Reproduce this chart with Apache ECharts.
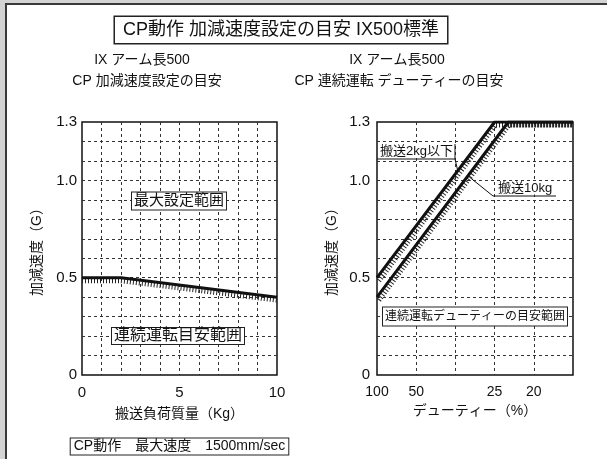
<!DOCTYPE html>
<html>
<head>
<meta charset="utf-8">
<title>CP動作 加減速度設定の目安 IX500標準</title>
<script src="https://cdn.jsdelivr.net/npm/echarts@6/dist/echarts.min.js"></script>
<style>
html,body{margin:0;padding:0;background:#fff;}
#main{width:607px;height:459px;}
</style>
</head>
<body>
<div id="main"></div>
<script>
// 左グラフ: 搬送負荷質量(Kg) - 加減速度(G)
var loadKg = [0, 2, 10];
var accByLoad = [0.5, 0.5, 0.4];
var loadTicks = [0, 5, 10];

// 右グラフ: x = 100 / デューティー(%)
var dutyPos = [1, 2, 3, 4, 5, 6];
var dutyText = ['100', '50', '', '25', '20', ''];
var duty2kgX = [1, 4.0, 6];
var duty2kgY = [0.5, 1.3, 1.3];
var duty10kgX = [1, 4.35, 6];
var duty10kgY = [0.4, 1.3, 1.3];

// 縦軸
var accTicks = [0, 0.5, 1.0, 1.3];
var accText = ['0', '0.5', '1.0', '1.3'];

var FONT = '"Liberation Sans", "Noto Sans CJK JP", sans-serif';
var INK = '#111';

function zip(xs, ys) {
    var out = [];
    for (var i = 0; i < xs.length; i++) out.push([xs[i], ys[i]]);
    return out;
}
function yAt(xs, ys, x) {
    for (var i = 0; i < xs.length - 1; i++) {
        if (x >= xs[i] && x <= xs[i + 1]) {
            return ys[i] + (ys[i + 1] - ys[i]) * (x - xs[i]) / (xs[i + 1] - xs[i]);
        }
    }
    return ys[ys.length - 1];
}
function accLabel(v) {
    for (var i = 0; i < accTicks.length; i++) {
        if (Math.abs(accTicks[i] - v) < 1e-6) return accText[i];
    }
    return '';
}

var dash = { type: [3, 3], color: '#333', width: 1 };

function yAxisOf(idx, margin) {
    return {
        gridIndex: idx, type: 'value', min: 0, max: 1.3, interval: 0.1,
        axisLine: { show: false }, axisTick: { show: false },
        axisLabel: { margin: margin, fontSize: 15, color: INK, fontFamily: FONT, formatter: accLabel, showMinLabel: true, showMaxLabel: true },
        splitLine: { show: true, showMinLine: false, showMaxLine: false, lineStyle: dash },
        name: '加減速度（G）', nameLocation: 'middle', nameRotate: 90, nameGap: 38,
        nameTextStyle: { fontSize: 14, color: INK, fontFamily: FONT }
    };
}
function hiddenAxis(idx, min, max) {
    return { gridIndex: idx, type: 'value', min: min, max: max, show: false, splitLine: { show: false } };
}
function mainLine(name, xi, data) {
    return { name: name, type: 'line', xAxisIndex: xi, yAxisIndex: xi, data: data, symbol: 'none', silent: true, z: 5,
        lineStyle: { color: INK, width: 3 } };
}
// 斜線(ハッチ): 同じデータを少しずらしたグリッドに点線で描く
function hatchLine(xi, data) {
    return { type: 'line', xAxisIndex: xi, yAxisIndex: xi, data: data, symbol: 'none', silent: true, clip: false, z: 4,
        lineStyle: { color: '#222', width: 5, type: [1, 2] } };
}

var frame = { show: true, borderColor: INK, borderWidth: 1.5, backgroundColor: 'transparent' };

var option = {
    backgroundColor: '#fff',
    animation: false,
    grid: [
        Object.assign({ left: 82, top: 122, width: 195, height: 253 }, frame),
        Object.assign({ left: 377, top: 122, width: 196, height: 253 }, frame),
        { left: 82, top: 125, width: 195, height: 253 },
        { left: 379, top: 125, width: 194, height: 253 }
    ],
    xAxis: [
        {
            gridIndex: 0, type: 'value', min: 0, max: 10, interval: 1,
            axisLine: { show: false }, axisTick: { show: false },
            axisLabel: { margin: 10, fontSize: 15, color: INK, fontFamily: FONT, showMinLabel: true, showMaxLabel: true,
                formatter: function (v) { return loadTicks.indexOf(v) >= 0 ? String(v) : ''; } },
            splitLine: { show: true, showMinLine: false, showMaxLine: false, lineStyle: dash },
            name: '搬送負荷質量（Kg）', nameLocation: 'middle', nameGap: 32,
            nameTextStyle: { fontSize: 14, color: INK, fontFamily: FONT }
        },
        {
            gridIndex: 1, type: 'value', min: 1, max: 6, interval: 1,
            axisLine: { show: false }, axisTick: { show: false },
            axisLabel: { margin: 10, fontSize: 14, color: INK, fontFamily: FONT, showMinLabel: true, showMaxLabel: true,
                formatter: function (v) { var i = dutyPos.indexOf(v); return i >= 0 ? dutyText[i] : ''; } },
            splitLine: { show: true, showMinLine: false, showMaxLine: false, lineStyle: dash },
            name: 'デューティー（%）', nameLocation: 'middle', nameGap: 29,
            nameTextStyle: { fontSize: 14, color: INK, fontFamily: FONT }
        },
        hiddenAxis(2, 0, 10),
        hiddenAxis(3, 1, 6)
    ],
    yAxis: [
        yAxisOf(0, 5),
        yAxisOf(1, 7),
        hiddenAxis(2, 0, 1.3),
        hiddenAxis(3, 0, 1.3)
    ],
    series: [
        hatchLine(2, zip(loadKg, accByLoad)),
        mainLine('CP加減速度', 0, zip(loadKg, accByLoad)),
        hatchLine(3, zip(duty2kgX, duty2kgY)),
        hatchLine(3, zip(duty10kgX, duty10kgY)),
        mainLine('搬送2kg以下', 1, zip(duty2kgX, duty2kgY)),
        mainLine('搬送10kg', 1, zip(duty10kgX, duty10kgY))
    ]
};

var chart = echarts.init(document.getElementById('main'), null, { renderer: 'canvas' });
chart.setOption(option);

function boxText(text, x, y, size, pad, opts) {
    opts = opts || {};
    return {
        type: 'text', z: 100,
        style: {
            text: text, x: x, y: y, fill: INK,
            font: size + 'px ' + FONT,
            align: opts.align || 'center', textAlign: opts.align || 'center',
            verticalAlign: 'middle', textVerticalAlign: 'middle',
            backgroundColor: opts.noBg ? null : '#fff',
            borderColor: opts.noBorder ? null : '#222',
            borderWidth: opts.noBorder ? 0 : (opts.bw || 1),
            padding: pad
        }
    };
}
function poly(points, w) {
    return { type: 'polyline', z: 100, shape: { points: points }, style: { stroke: INK, lineWidth: w || 1, fill: null } };
}

var tip2x = 3.06, tip10x = 3.32;
var tip2 = chart.convertToPixel({ xAxisIndex: 1, yAxisIndex: 1 }, [tip2x, yAt(duty2kgX, duty2kgY, tip2x)]);
var tip10 = chart.convertToPixel({ xAxisIndex: 1, yAxisIndex: 1 }, [tip10x, yAt(duty10kgX, duty10kgY, tip10x)]);

chart.setOption({
    graphic: [
        // 外枠
        { type: 'rect', z: 90, shape: { x: 0, y: 0, width: 607, height: 3 }, style: { fill: '#d4d4d4' } },
        { type: 'rect', z: 90, shape: { x: 0, y: 0, width: 5, height: 459 }, style: { fill: '#d4d4d4' } },
        { type: 'rect', z: 91, shape: { x: 5, y: 3, width: 602, height: 2 }, style: { fill: '#3a3a3a' } },
        { type: 'rect', z: 91, shape: { x: 5, y: 3, width: 2, height: 456 }, style: { fill: '#3a3a3a' } },
        // タイトル
        boxText('CP動作 加減速度設定の目安 IX500標準', 281, 30, 18, [4, 8], { bw: 1.5 }),
        boxText('IX アーム長500', 142, 60, 14, 0, { noBg: true, noBorder: true }),
        boxText('CP 加減速度設定の目安', 147, 81, 14, 0, { noBg: true, noBorder: true }),
        boxText('IX アーム長500', 397, 60, 14, 0, { noBg: true, noBorder: true }),
        boxText('CP 連続運転 デューティーの目安', 399, 81, 14, 0, { noBg: true, noBorder: true }),
        // 左グラフ注記
        boxText('最大設定範囲', 179, 201, 15, [1, 2]),
        boxText('連続運転目安範囲', 178, 336, 16, [0, 2]),
        // 右グラフ注記
        boxText('連続運転デューティーの目安範囲', 475, 316.5, 12, [3, 2]),
        boxText('搬送2kg以下', 379, 151, 13, [0, 1], { align: 'left', noBorder: true }),
        poly([[455, 144], [455, 159]]),
        poly([[377, 159], [455, 159], tip2]),
        boxText('搬送10kg', 497, 188, 13, [0, 1], { align: 'left', noBorder: true }),
        poly([[556, 196], [493, 196], tip10]),
        // 下部注記
        boxText('CP動作\u3000最大速度\u30001500mm/sec', 179.5, 446.5, 14, [1, 3])
    ]
});
</script>
</body>
</html>
